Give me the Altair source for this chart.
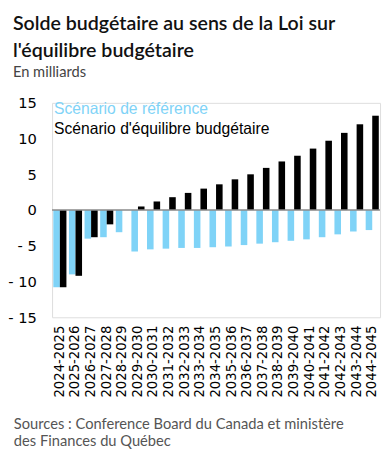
import altair as alt
import pandas as pd

years = ["2024-2025", "2025-2026", "2026-2027", "2027-2028", "2028-2029",
         "2029-2030", "2030-2031", "2031-2032", "2032-2033", "2033-2034",
         "2034-2035", "2035-2036", "2036-2037", "2037-2038", "2038-2039",
         "2039-2040", "2040-2041", "2041-2042", "2042-2043", "2043-2044",
         "2044-2045"]
reference = [-10.8, -9.0, -4.0, -3.8, -3.1, -5.8, -5.5, -5.4, -5.3, -5.3,
             -5.2, -5.1, -4.9, -4.7, -4.5, -4.3, -4.1, -3.8, -3.4, -3.0, -2.8]
equilibre = [-10.8, -9.2, -3.8, -2.0, 0.0, 0.5, 1.2, 1.8, 2.4, 3.0,
             3.6, 4.3, 5.0, 5.9, 6.8, 7.6, 8.6, 9.7, 10.8, 12.0, 13.2]
series_names = ["Scénario de référence", "Scénario d'équilibre budgétaire"]
series_colors = ["#7fd3f7", "#000000"]
y_ticks = [-15, -10, -5, 0, 5, 10, 15]
title_lines = ["Solde budgétaire au sens de la Loi sur", "l'équilibre budgétaire"]
subtitle = "En milliards"
source_lines = ["Sources : Conference Board du Canada et ministère",
                "des Finances du Québec"]

rows = []
for i, yr in enumerate(years):
    rows.append({"year": yr, "series": series_names[0], "order": 0, "value": reference[i]})
    rows.append({"year": yr, "series": series_names[1], "order": 1, "value": equilibre[i]})
df = pd.DataFrame(rows)

W, H = 335, 219

y_axis = alt.Axis(title=None, values=y_ticks, grid=False, domain=False,
                  ticks=False, labelPadding=16, labelFont="DejaVu Sans",
                  labelFontSize=15, labelColor="#000", labelOverlap=False,
                  labelBound=False, labelFlush=False,
                  labelExpr="datum.value < 0 ? '- ' + abs(datum.value) : '' + datum.value")
y_scale = alt.Scale(domain=[-15, 15], nice=False)

bars = alt.Chart(df).mark_bar().encode(
    x=alt.X("year:N", sort=years,
            scale=alt.Scale(paddingInner=0.16, paddingOuter=0.08),
            axis=alt.Axis(title=None, labelAngle=-90, labelFont="DejaVu Sans",
                          labelFontSize=13.5, labelColor="#000", domain=False,
                          ticks=False, labelPadding=8, labelBaseline="middle",
                          labelAlign="right", labelOverlap=False)),
    xOffset=alt.XOffset("order:O", scale=alt.Scale(paddingInner=0, paddingOuter=0)),
    y=alt.Y("value:Q", scale=y_scale, axis=y_axis),
    color=alt.Color("series:N", scale=alt.Scale(domain=series_names, range=series_colors),
                    legend=None),
)

zero = alt.Chart(pd.DataFrame({"value": [0]})).mark_rule(color="#8a8a8a", strokeWidth=1.5).encode(
    y=alt.Y("value:Q", scale=y_scale, axis=y_axis), x=alt.value(0), x2=alt.value(W)
)

def txt(text, x, y, size, color, font, weight="normal"):
    return alt.Chart(pd.DataFrame({"t": [text]})).mark_text(
        align="left", baseline="alphabetic", fontSize=size, color=color,
        font=font, fontWeight=weight
    ).encode(text="t:N", x=alt.value(x), y=alt.value(y))

leg1 = txt(series_names[0], 2, 11, 16, series_colors[0], "Liberation Sans")
leg2 = txt(series_names[1], 2, 32, 16, series_colors[1], "Liberation Sans")
t1 = txt(title_lines[0], -40, -74, 20, "#111", "Lato", 600)
t2 = txt(title_lines[1], -40, -47, 20, "#111", "Lato", 600)
st = txt(subtitle, -40, -26, 15, "#444", "Lato")
s1 = txt(source_lines[0], -39, 333, 15, "#555", "Lato")
s2 = txt(source_lines[1], -39, 350, 15, "#555", "Lato")

chart = alt.layer(bars, zero, leg1, leg2, t1, t2, st, s1, s2).properties(
    width=W, height=H,
    autosize=alt.AutoSizeParams(type="none"),
    padding={"left": 45, "top": 92, "right": 2, "bottom": 145},
).configure_view(stroke=None).configure(background="white")

chart.save("out.html", embed_options={"renderer": "svg", "actions": False})
